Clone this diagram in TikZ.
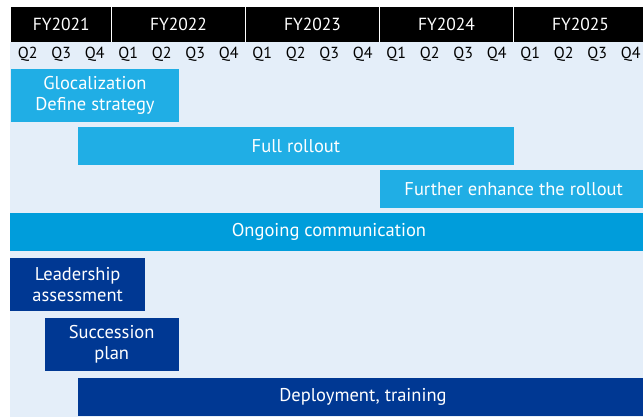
\documentclass[tikz,border=0pt]{standalone}
\usepackage{fontspec}
\setmainfont{PT Sans}
\definecolor{hdr}{HTML}{000000}
\definecolor{bgl}{HTML}{E4EEF9}
\definecolor{lblue}{HTML}{20AEE5}
\definecolor{mblue}{HTML}{009DDB}
\definecolor{dblue}{HTML}{003893}
\tikzset{
  bar/.style={anchor=north west, inner sep=0pt, text=white, align=center, font=\fontsize{18.5}{21}\selectfont},
  qlab/.style={font=\fontsize{16}{18}\selectfont, text=black},
  ylab/.style={font=\fontsize{17.5}{20}\selectfont, text=white},
}
\begin{document}
\begin{tikzpicture}[x=1pt,y=-1pt]
\useasboundingbox (0,0) rectangle (643,417);
\clip (0,0) rectangle (643,417);
\def\qw{33.5}
\def\xo{11}
% background
\fill[bgl] (10,42) rectangle (650,420);
\fill[hdr] (11,7) rectangle (650,42);
% year dividers
\foreach \k in {3,7,11,15} {
  \draw[white, line width=0.8pt] ({\xo+\k*\qw},7) -- ({\xo+\k*\qw},42);
}
% year labels
\node[ylab] (fy21) at ({\xo+1.5*\qw},24.5) {FY2021};
\node[ylab] (fy22) at ({\xo+5*\qw},24.5) {FY2022};
\node[ylab] (fy23) at ({\xo+9*\qw},24.5) {FY2023};
\node[ylab] (fy24) at ({\xo+13*\qw},24.5) {FY2024};
\node[ylab] (fy25) at ({\xo+17*\qw},24.5) {FY2025};
% quarter labels
\foreach \q [count=\i from 0] in {Q2,Q3,Q4,Q1,Q2,Q3,Q4,Q1,Q2,Q3,Q4,Q1,Q2,Q3,Q4,Q1,Q2,Q3,Q4} {
  \node[qlab] (q\i) at ({\xo+(\i+0.5)*\qw},54.5) {\q};
}
% bars
\node[bar, fill=lblue, minimum width={5*\qw}, minimum height=52.5] (glo) at (\xo,69) {Glocalization\\Define strategy};
\node[bar, fill=lblue, minimum width={13*\qw}, minimum height=38] (full) at ({\xo+2*\qw},127) {Full rollout};
\node[bar, fill=lblue, minimum width={8*\qw}, minimum height=38] (further) at ({\xo+11*\qw},170) {Further enhance the rollout};
\node[bar, fill=mblue, minimum width={19*\qw+1}, minimum height=38] (ongoing) at (10,213) {Ongoing communication};
\node[bar, fill=dblue, minimum width={4*\qw+1}, minimum height=52.5] (lead) at (10,258) {Leadership\\assessment};
\node[bar, fill=dblue, minimum width={4*\qw}, minimum height=52.5] (succ) at ({\xo+\qw},318) {Succession\\plan};
\node[bar, fill=dblue, minimum width={17*\qw}, minimum height=38] (deploy) at ({\xo+2*\qw},378) {Deployment, training};
\end{tikzpicture}
\end{document}
